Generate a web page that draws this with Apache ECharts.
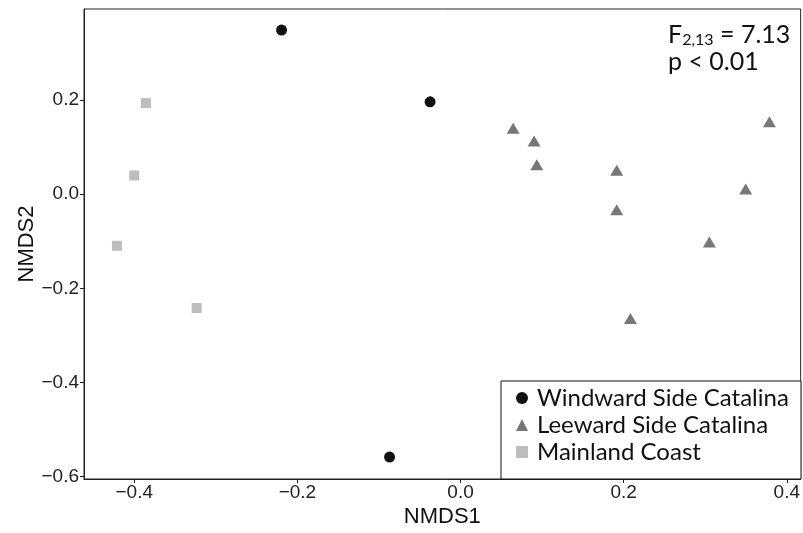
<!DOCTYPE html>
<html>
<head>
<meta charset="utf-8">
<script src="https://cdn.jsdelivr.net/npm/echarts@6/dist/echarts.min.js"></script>
<style>
  html, body { margin: 0; padding: 0; background: #fff; }
  #chart { width: 803px; height: 533px; }
</style>
</head>
<body>
<div id="chart"></div>
<script>
// NMDS scores
const windward = [
  [-0.2194, 0.3482],
  [-0.0373, 0.1960],
  [-0.0870, -0.5584],
]
const leeward = [
  [0.0645, 0.1400],
  [0.0902, 0.1125],
  [0.0935, 0.0622],
  [0.1915, 0.0505],
  [0.1915, -0.0333],
  [0.2083, -0.2641],
  [0.3051, -0.1019],
  [0.3496, 0.0106],
  [0.3787, 0.1535],
]
const mainland = [
  [-0.3857, 0.1932],
  [-0.4000, 0.0395],
  [-0.4212, -0.1098],
  [-0.3235, -0.2420],
]
const xTicks = [-0.4, -0.2, 0.0, 0.2, 0.4]
const yTicks = [-0.6, -0.4, -0.2, 0.0, 0.2]
const groupNames = ['Windward Side Catalina', 'Leeward Side Catalina', 'Mainland Coast']

const fmt = v => v.toFixed(1).replace('-', '\u2212')
const font = 'Liberation Sans, Arial, sans-serif'
const noteFont = 'Lato, Carlito, sans-serif'

const myChart = echarts.init(document.getElementById('chart'), null, { renderer: 'canvas' })

const axisCommon = {
  type: 'value',
  nameLocation: 'middle',
  nameMoveOverlap: false,
  nameTextStyle: { fontFamily: font, fontSize: 22, color: '#111' },
  splitLine: { show: false },
  axisLine: { show: true, onZero: false, lineStyle: { color: '#222', width: 1 } },
  axisTick: { show: true, length: 4, lineStyle: { color: '#222' } },
  axisLabel: { fontFamily: font, fontSize: 19, color: '#222', formatter: fmt },
}

const option = {
  animation: false,
  backgroundColor: '#fff',
  grid: {
    left: 84, right: 2, top: 9, bottom: 54,
    show: true, borderColor: '#222', borderWidth: 1, backgroundColor: 'transparent',
  },
  xAxis: Object.assign({}, axisCommon, {
    name: 'NMDS1',
    nameGap: 27,
    min: -0.4616,
    max: 0.417,
    axisTick: Object.assign({}, axisCommon.axisTick, { customValues: xTicks }),
    axisLabel: Object.assign({}, axisCommon.axisLabel, { customValues: xTicks, margin: 4 }),
  }),
  yAxis: Object.assign({}, axisCommon, {
    name: 'NMDS2',
    nameGap: 46,
    min: -0.605,
    max: 0.393,
    axisTick: Object.assign({}, axisCommon.axisTick, { customValues: yTicks }),
    axisLabel: Object.assign({}, axisCommon.axisLabel, { customValues: yTicks, margin: 5 }),
  }),
  legend: {
    orient: 'vertical',
    left: 516,
    top: 386,
    z: 20,
    itemWidth: 12,
    itemHeight: 12,
    itemGap: 3,
    padding: 0,
    textStyle: { fontFamily: noteFont, fontSize: 24, color: '#111', lineHeight: 24, padding: [0, 0, 0, 4] },
    data: [
      { name: groupNames[0], icon: 'circle' },
      { name: groupNames[1], icon: 'triangle' },
      { name: groupNames[2], icon: 'rect' },
    ],
  },
  graphic: [
    {
      type: 'rect',
      z: 1,
      shape: { x: 501, y: 381, width: 300, height: 98 },
      style: { fill: '#fff', stroke: '#111', lineWidth: 1 },
    },
    {
      type: 'text',
      z: 10,
      left: 668,
      top: 21,
      style: {
        text: 'F{sub|2,13} = 7.13\np < 0.01',
        fontFamily: noteFont,
        fontSize: 25,
        lineHeight: 27,
        fill: '#111',
        rich: {
          sub: { fontFamily: noteFont, fontSize: 16, verticalAlign: 'bottom', padding: [12, 0, 0, 0], fill: '#111' },
        },
      },
    },
  ],
  series: [
    {
      name: groupNames[0],
      type: 'scatter',
      symbol: 'circle',
      symbolSize: 11,
      itemStyle: { color: '#111', opacity: 1 },
      data: windward,
    },
    {
      name: groupNames[1],
      type: 'scatter',
      symbol: 'triangle',
      symbolSize: [13, 11],
      itemStyle: { color: '#777', opacity: 1 },
      data: leeward,
    },
    {
      name: groupNames[2],
      type: 'scatter',
      symbol: 'rect',
      symbolSize: 10,
      itemStyle: { color: '#bdbdbd', opacity: 1 },
      data: mainland,
    },
  ],
}
myChart.setOption(option, true)
window.addEventListener('resize', () => myChart.resize())
</script>
</body>
</html>
